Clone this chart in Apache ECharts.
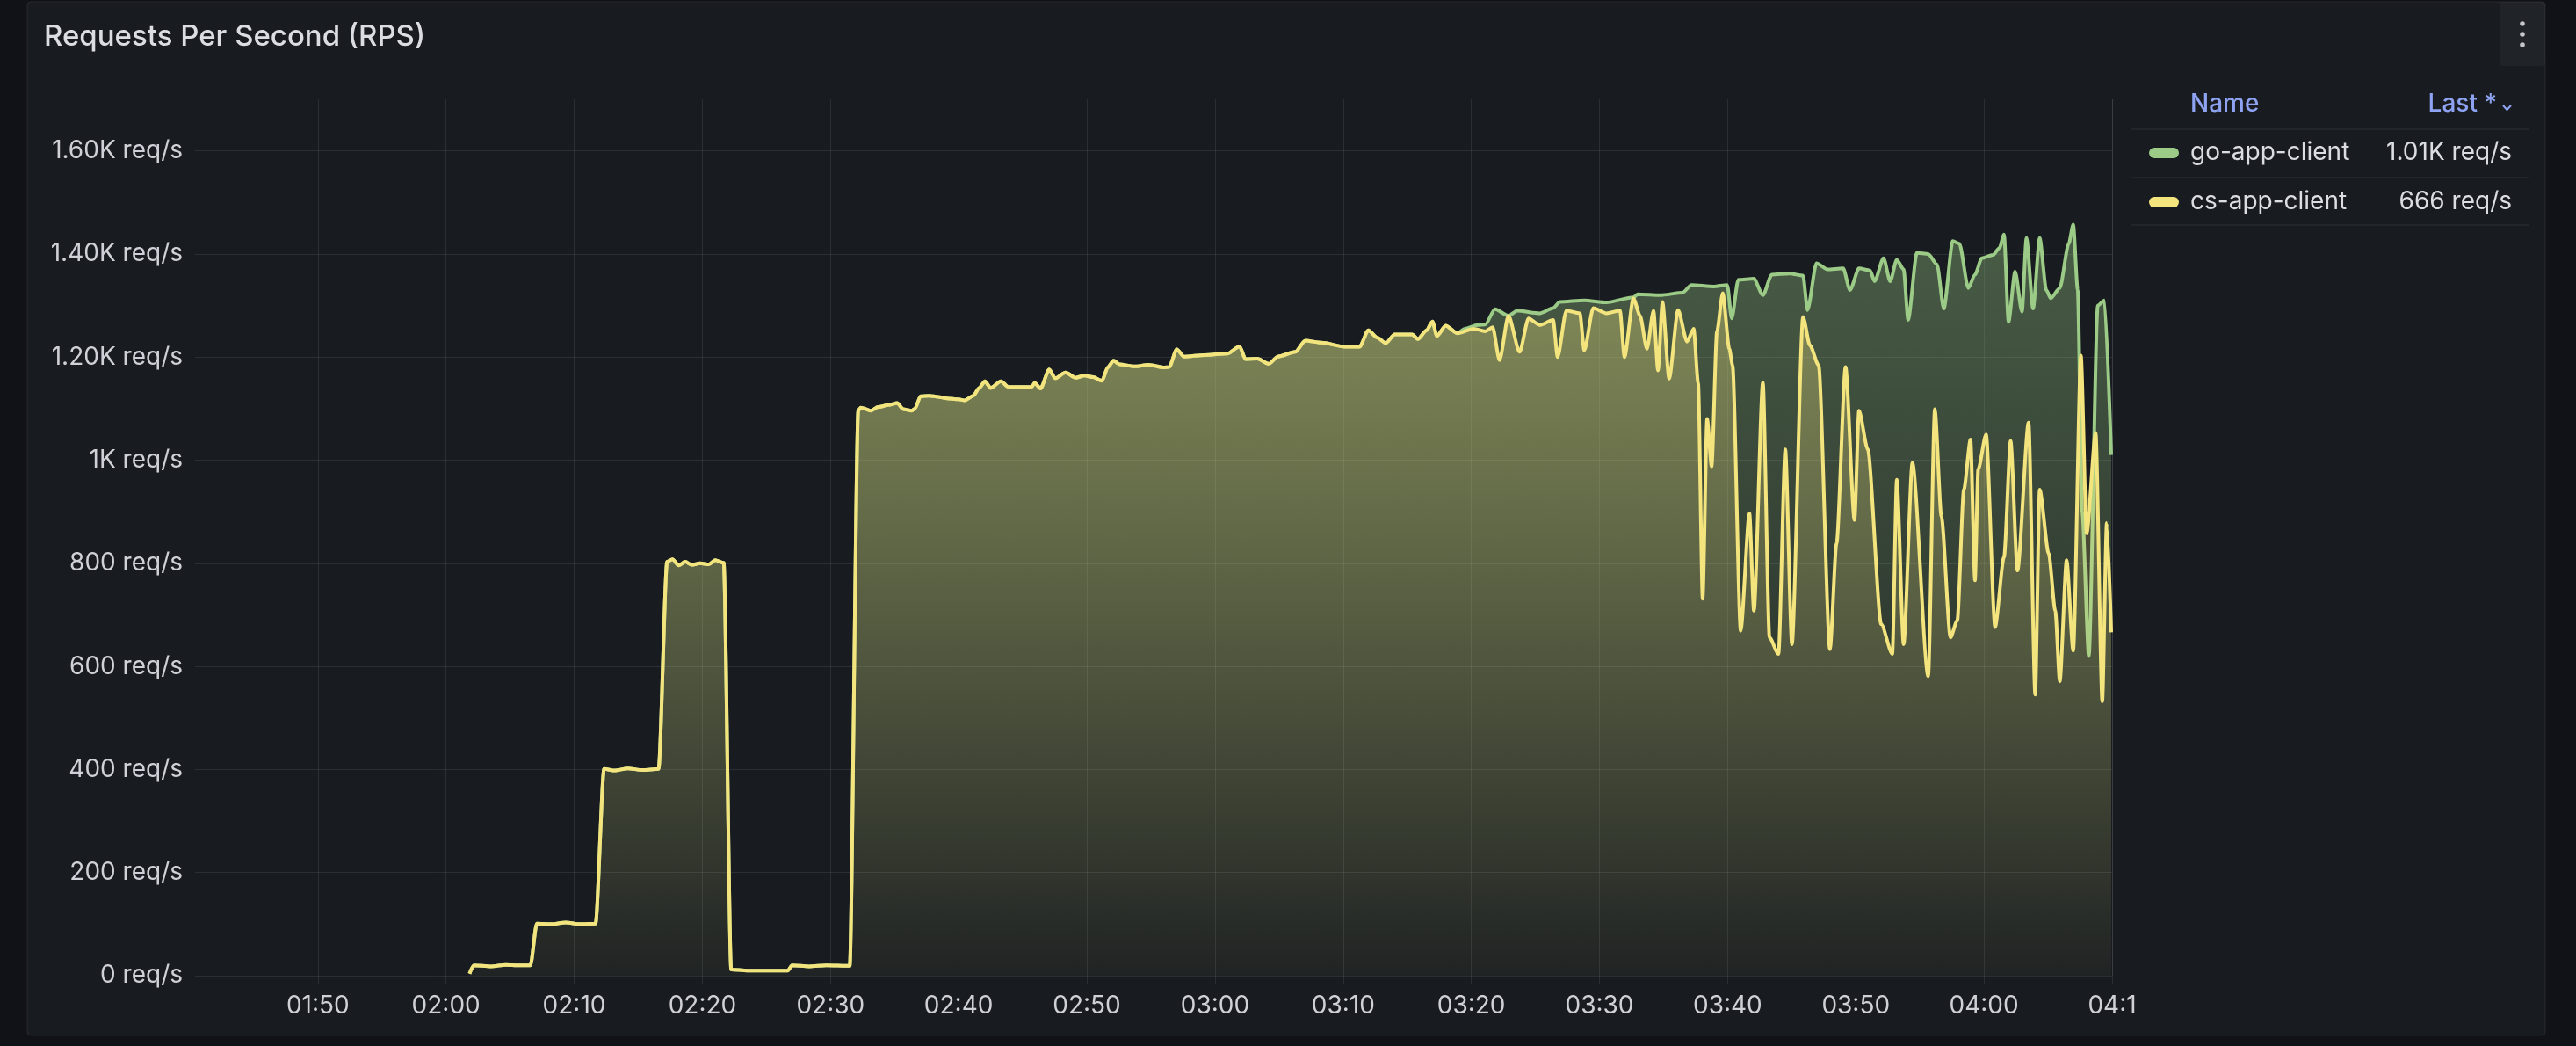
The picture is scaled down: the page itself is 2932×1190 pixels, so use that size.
<!DOCTYPE html>
<html><head><meta charset="utf-8">
<script src="https://cdn.jsdelivr.net/npm/echarts@6/dist/echarts.min.js"></script>
<style>html,body{margin:0;padding:0;background:#111217;overflow:hidden}#c{width:2932px;height:1190px}</style>
</head><body><div id="c"></div>
<script>
// ---------- data ----------
const seriesNames = ['go-app-client', 'cs-app-client'];
const xRange = ['01:40:25', '04:10:00'];
const yRange = [0, 1700, 200];

// both clients overlap exactly until ~03:19 (cs drawn on top)
const sharedData = [
 ['02:01:50', 4], ['02:02:10', 20], ['02:03:30', 18], ['02:04:40', 21], ['02:05:40', 20], ['02:06:35', 20],
 ['02:07:05', 101], ['02:08:10', 100], ['02:09:20', 103], ['02:10:30', 100], ['02:11:40', 101],
 ['02:12:20', 401], ['02:13:10', 398], ['02:14:10', 402], ['02:15:20', 399], ['02:16:35', 401],
 ['02:17:15', 803], ['02:17:40', 808], ['02:18:10', 796], ['02:18:40', 803], ['02:19:10', 797], ['02:19:50', 800],
 ['02:20:30', 798], ['02:21:00', 806], ['02:21:40', 801],
 ['02:22:15', 12], ['02:23:30', 10], ['02:25:00', 10], ['02:26:40', 10], ['02:27:00', 20], ['02:28:20', 18],
 ['02:29:40', 20], ['02:31:30', 19],
 ['02:32:10', 1096], ['02:32:21', 1102], ['02:33:09', 1096], ['02:33:43', 1103], ['02:34:31', 1107], ['02:35:12', 1111],
 ['02:35:40', 1099], ['02:36:21', 1096], ['02:36:35', 1100],
 ['02:37:02', 1124], ['02:37:43', 1125], ['02:38:24', 1123], ['02:39:05', 1120], ['02:40:00', 1118], ['02:40:28', 1116],
 ['02:41:09', 1125], ['02:41:36', 1140], ['02:42:03', 1153], ['02:42:30', 1140], ['02:43:18', 1153], ['02:43:53', 1142],
 ['02:44:48', 1142], ['02:45:42', 1142], ['02:45:56', 1150], ['02:46:23', 1139],
 ['02:47:04', 1176], ['02:47:32', 1159], ['02:48:20', 1170], ['02:49:08', 1160], ['02:49:49', 1164], ['02:50:30', 1161],
 ['02:51:11', 1154], ['02:51:38', 1180], ['02:52:05', 1193], ['02:52:33', 1186], ['02:53:42', 1182], ['02:54:50', 1185],
 ['02:55:59', 1180], ['02:56:26', 1181],
 ['02:57:01', 1215], ['02:57:35', 1201], ['02:59:11', 1204], ['03:01:00', 1207], ['03:01:55', 1221], ['03:02:23', 1196],
 ['03:03:18', 1197], ['03:04:13', 1187], ['03:04:54', 1201], ['03:06:16', 1210],
 ['03:07:03', 1232], ['03:08:18', 1228], ['03:10:08', 1220], ['03:11:17', 1220], ['03:11:58', 1252], ['03:12:39', 1238],
 ['03:13:20', 1227], ['03:14:01', 1244], ['03:15:23', 1244], ['03:15:50', 1235], ['03:16:31', 1252], ['03:16:58', 1269],
 ['03:17:19', 1241], ['03:18:00', 1261], ['03:18:55', 1246]
];

const goTail = [
 ['03:19:30', 1255], ['03:20:30', 1262], ['03:21:05', 1263], ['03:21:51', 1293], ['03:22:54', 1280], ['03:23:35', 1290],
 ['03:25:20', 1285], ['03:26:23', 1295], ['03:26:54', 1307], ['03:28:49', 1310], ['03:30:33', 1306], ['03:32:39', 1316],
 ['03:33:00', 1322], ['03:34:44', 1320], ['03:36:29', 1325], ['03:37:11', 1340], ['03:38:55', 1337], ['03:39:58', 1340],
 ['03:40:19', 1275], ['03:40:50', 1350], ['03:42:03', 1352], ['03:42:45', 1320], ['03:43:27', 1360], ['03:44:51', 1362],
 ['03:45:53', 1358], ['03:46:14', 1291], ['03:46:56', 1382], ['03:47:48', 1370], ['03:49:01', 1372], ['03:49:33', 1330],
 ['03:50:15', 1372], ['03:51:07', 1368], ['03:51:28', 1347], ['03:52:10', 1392], ['03:52:41', 1347], ['03:53:12', 1389],
 ['03:53:44', 1370], ['03:54:05', 1272], ['03:54:46', 1402], ['03:55:39', 1400], ['03:56:20', 1380], ['03:56:52', 1294],
 ['03:57:34', 1425], ['03:58:05', 1420], ['03:58:47', 1334], ['03:59:18', 1360], ['03:59:50', 1392], ['04:00:42', 1398],
 ['04:01:13', 1412], ['04:01:34', 1438], ['04:01:55', 1268], ['04:02:26', 1366], ['04:02:58', 1288], ['04:03:19', 1431],
 ['04:03:50', 1294], ['04:04:21', 1431], ['04:04:52', 1330], ['04:05:13', 1314], ['04:05:55', 1334], ['04:06:37', 1420],
 ['04:06:58', 1457], ['04:07:19', 1330], ['04:07:40', 900], ['04:08:11', 620], ['04:08:53', 1300], ['04:09:24', 1310],
 ['04:09:56', 1010]
];

const csTail = [
 ['03:20:10', 1255], ['03:21:05', 1250], ['03:21:40', 1258], ['03:22:12', 1194], ['03:22:54', 1280], ['03:23:46', 1210],
 ['03:24:28', 1275], ['03:25:20', 1262], ['03:26:23', 1272], ['03:26:44', 1200], ['03:27:25', 1290], ['03:28:28', 1285],
 ['03:28:49', 1213], ['03:29:31', 1295], ['03:30:33', 1285], ['03:31:36', 1290], ['03:31:57', 1200], ['03:32:39', 1314],
 ['03:33:10', 1280], ['03:33:42', 1216], ['03:34:13', 1290], ['03:34:34', 1174], ['03:34:55', 1307], ['03:35:26', 1158],
 ['03:36:08', 1291], ['03:36:50', 1230], ['03:37:21', 1255], ['03:37:42', 1150], ['03:38:03', 731], ['03:38:24', 1080],
 ['03:38:45', 988], ['03:39:10', 1250], ['03:39:37', 1324], ['03:40:08', 1216], ['03:40:23', 1184], ['03:41:01', 669],
 ['03:41:42', 897], ['03:42:03', 708], ['03:42:45', 1151], ['03:43:16', 656], ['03:43:58', 624], ['03:44:30', 1021],
 ['03:45:01', 643], ['03:45:53', 1278], ['03:46:25', 1223], ['03:47:06', 1184], ['03:47:59', 633], ['03:48:30', 839],
 ['03:49:12', 1181], ['03:49:54', 884], ['03:50:15', 1096], ['03:50:56', 1021], ['03:51:59', 682], ['03:52:51', 624],
 ['03:53:12', 962], ['03:53:44', 643], ['03:54:25', 995], ['03:55:39', 581], ['03:56:10', 1099], ['03:56:41', 890],
 ['03:57:23', 656], ['03:57:55', 689], ['03:58:26', 943], ['03:58:57', 1040], ['03:59:18', 767], ['03:59:33', 982],
 ['04:00:10', 1050], ['04:00:52', 676], ['04:01:34', 812], ['04:02:05', 1037], ['04:02:37', 786], ['04:03:29', 1073],
 ['04:04:00', 545], ['04:04:21', 943], ['04:05:03', 819], ['04:05:34', 708], ['04:05:55', 571], ['04:06:27', 806],
 ['04:06:58', 630], ['04:07:34', 1203], ['04:08:01', 858], ['04:08:43', 1053], ['04:09:14', 532], ['04:09:35', 878],
 ['04:09:56', 666]
];

// ---------- helpers ----------
function ts(hms) { const p = hms.split(':').map(Number); return new Date(2024, 4, 1, p[0], p[1], p[2]).getTime(); }
function toSeries(arr) { return arr.map(d => [ts(d[0]), d[1]]); }
function fmtRps(v) {
  if (v < 1000) return Math.round(v) + ' req/s';
  if (v % 1000 === 0) return (v / 1000) + 'K req/s';
  return (v / 1000).toFixed(2) + 'K req/s';
}
const pad = n => (n < 10 ? '0' : '') + n;

const goData = toSeries(sharedData.concat(goTail));
const csData = toSeries(sharedData.concat(csTail));
const lastLabel = {
  'go-app-client': fmtRps(goData[goData.length - 1][1]),
  'cs-app-client': fmtRps(csData[csData.length - 1][1])
};

const FONT = 'Inter, "Noto Sans", sans-serif';
const GREEN = '#9bcb86', YELLOW = '#f3e47e';
const GRID_C = 'rgba(204,204,220,0.11)';
const LABEL_C = '#d0d1d8';
const xMin = ts(xRange[0]), xMax = ts(xRange[1]);
const PLOT_TOP = 113, PLOT_BOTTOM = 1110;
const TEN_MIN = 600001; // just over 10 minutes so the time scale picks 10-minute steps

function grad(rgb) {
  return new echarts.graphic.LinearGradient(0, PLOT_TOP, 0, PLOT_BOTTOM, [
    { offset: 0, color: 'rgba(' + rgb + ',0.62)' },
    { offset: 1, color: 'rgba(' + rgb + ',0.03)' }
  ], true);
}

const chart = echarts.init(document.getElementById('c'), null, { renderer: 'canvas' });
const option = {
  backgroundColor: '#111217',
  animation: false,
  textStyle: { fontFamily: FONT },
  title: {
    text: 'Requests Per Second (RPS)', left: 45, top: 21,
    textStyle: { color: '#dcdde2', fontSize: 33, fontWeight: 500, fontFamily: FONT }
  },
  grid: { left: 222, right: 528, top: PLOT_TOP, bottom: 1190 - PLOT_BOTTOM, containLabel: false },
  xAxis: {
    type: 'time', min: xMin, max: xMax, minInterval: TEN_MIN, maxInterval: TEN_MIN,
    axisLine: { show: false },
    axisTick: { show: true, length: 10, lineStyle: { color: GRID_C } },
    splitLine: { show: true, showMinLine: false, lineStyle: { color: GRID_C, width: 1 } },
    axisLabel: {
      color: LABEL_C, fontSize: 28, fontFamily: FONT, margin: 21,
      showMinLabel: false, showMaxLabel: true, hideOverlap: false,
      formatter: function (v) {
        const d = new Date(v);
        const s = pad(d.getHours()) + ':' + pad(d.getMinutes());
        return v === xMax ? s.slice(0, 4) : s;
      }
    }
  },
  yAxis: {
    type: 'value', min: yRange[0], max: yRange[1], interval: yRange[2],
    axisLine: { show: false }, axisTick: { show: false },
    splitLine: { show: true, showMaxLine: false, lineStyle: { color: GRID_C, width: 1 } },
    axisLabel: { color: LABEL_C, fontSize: 28, fontFamily: FONT, margin: 14, showMaxLabel: false, formatter: fmtRps }
  },
  legend: {
    orient: 'vertical', left: 2441, top: 155, itemWidth: 34, itemHeight: 12, itemGap: 28,
    icon: 'path://M6,0 H28 A6,6 0 0 1 28,12 H6 A6,6 0 0 1 6,0 Z',
    selectedMode: false, data: seriesNames,
    formatter: name => '{n|' + name + '}{v|' + lastLabel[name] + '}',
    textStyle: {
      color: '#dcdde2', fontSize: 28, fontFamily: FONT,
      rich: {
        n: { padding: [0, 0, 0, 8], width: 220, fontSize: 28, lineHeight: 34, color: '#dcdde2', fontFamily: FONT },
        v: { width: 146, align: 'right', fontSize: 28, lineHeight: 34, color: '#dcdde2', fontFamily: FONT }
      }
    }
  },
  graphic: [
    { type: 'rect', z: -10, shape: { x: 31, y: 2, width: 2866, height: 1176, r: 4 },
      style: { fill: '#181b1f', stroke: 'rgba(204,204,220,0.10)', lineWidth: 1 } },
    { type: 'rect', z: -9, shape: { x: 2845, y: 2, width: 52, height: 73, r: 3 },
      style: { fill: 'rgba(204,204,220,0.05)' } },
    { type: 'circle', shape: { cx: 2871, cy: 27, r: 2.8 }, style: { fill: '#c5c6cd' } },
    { type: 'circle', shape: { cx: 2871, cy: 39, r: 2.8 }, style: { fill: '#c5c6cd' } },
    { type: 'circle', shape: { cx: 2871, cy: 51, r: 2.8 }, style: { fill: '#c5c6cd' } },
    { type: 'text', x: 2493, y: 119, style: { text: 'Name', fill: '#8ea3f2', font: '500 28px ' + FONT, textVerticalAlign: 'middle' } },
    { type: 'text', x: 2842, y: 119, style: { text: 'Last *', fill: '#8ea3f2', font: '500 28px ' + FONT, textAlign: 'right', textVerticalAlign: 'middle' } },
    { type: 'polyline', shape: { points: [[2849, 120], [2853.5, 125], [2858, 120]] }, style: { stroke: '#8ea3f2', lineWidth: 2, fill: null } },
    { type: 'line', shape: { x1: 2425, y1: 147, x2: 2878, y2: 147 }, style: { stroke: 'rgba(204,204,220,0.12)', lineWidth: 1 } },
    { type: 'line', shape: { x1: 2425, y1: 202, x2: 2878, y2: 202 }, style: { stroke: 'rgba(204,204,220,0.12)', lineWidth: 1 } },
    { type: 'line', shape: { x1: 2425, y1: 256, x2: 2878, y2: 256 }, style: { stroke: 'rgba(204,204,220,0.12)', lineWidth: 1 } }
  ],
  series: [
    {
      name: seriesNames[0], type: 'line', data: goData, showSymbol: false, smooth: 0.25, smoothMonotone: 'x',
      lineStyle: { width: 4, color: GREEN }, itemStyle: { color: GREEN },
      areaStyle: { color: grad('155,203,134') }, z: 2
    },
    {
      name: seriesNames[1], type: 'line', data: csData, showSymbol: false, smooth: 0.25, smoothMonotone: 'x',
      lineStyle: { width: 4, color: YELLOW }, itemStyle: { color: YELLOW },
      areaStyle: { color: grad('243,228,126') }, z: 3
    }
  ]
};
chart.setOption(option);
</script></body></html>
